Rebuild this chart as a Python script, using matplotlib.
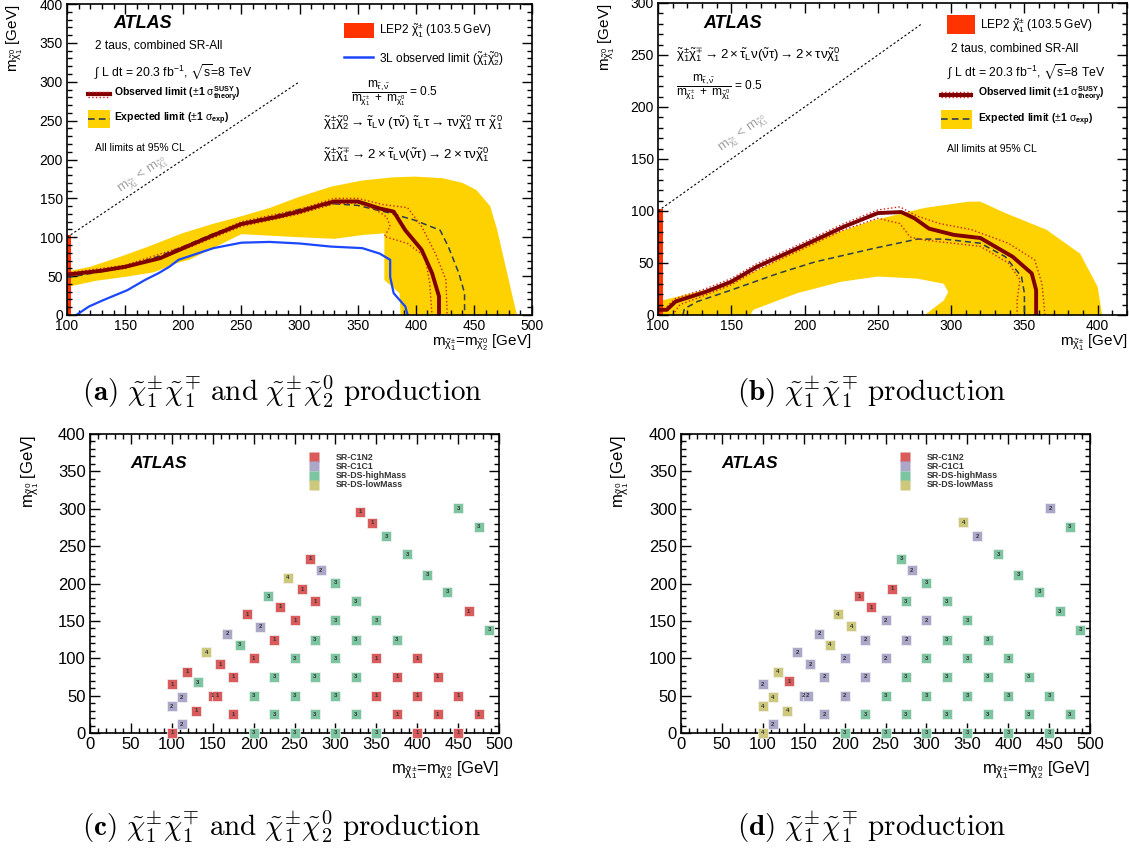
import numpy as np
import matplotlib.pyplot as plt
from matplotlib.patches import Rectangle, Polygon
from matplotlib.ticker import MultipleLocator

plt.rcParams['font.family'] = ['Liberation Sans', 'DejaVu Sans']
plt.rcParams['mathtext.fontset'] = 'custom'
plt.rcParams['mathtext.rm'] = 'Liberation Sans'
plt.rcParams['mathtext.it'] = 'Liberation Sans'
plt.rcParams['mathtext.bf'] = 'Liberation Sans:bold'
plt.rcParams['mathtext.fallback'] = 'stixsans'

# ---------------- (a) C1C1 + C1N2 exclusion ----------------
band_a_up_x = [100, 120, 146, 170, 199, 225, 250, 275, 300, 327, 354, 380, 399, 423, 440, 452, 464, 470, 476, 482, 487]
band_a_up_y = [56, 62, 75, 88, 105, 117, 127, 138, 152, 165, 173, 177, 178, 176, 170, 161, 140, 110, 71, 32, 0]
band_a_lo_x = [387, 386, 373, 373, 355, 330, 300, 250, 223, 205, 195, 175, 150, 125, 100]
band_a_lo_y = [0, 28, 45, 105, 103, 98, 100, 104, 84, 71, 67, 55, 49, 44, 36]

exp_a_x = [100, 130, 150, 180, 200, 225, 250, 280, 300, 330, 350, 378, 399, 421, 428, 437, 442, 442]
exp_a_y = [48, 56, 62, 76, 88, 104, 118, 128, 136, 143, 141, 131, 122, 109, 88, 54, 28, 0]

obs_a_x = [100, 130, 150, 180, 200, 225, 250, 280, 300, 320, 330, 350, 369, 381, 391, 405, 414, 420, 420]
obs_a_y = [52, 57, 62, 73, 86, 102, 117, 126, 133, 142, 146, 146, 137, 133, 109, 84, 54, 24, 0]
obs_a_up_x = [100, 150, 200, 250, 300, 330, 350, 372, 393, 405, 417, 426, 427]
obs_a_up_y = [54, 64, 88, 120, 136, 150, 150, 142, 138, 114, 79, 45, 0]
obs_a_dn_x = [100, 150, 200, 250, 300, 330, 350, 365, 375, 378, 373, 393, 408, 412, 414]
obs_a_dn_y = [50, 60, 84, 114, 130, 143, 144, 136, 126, 114, 101, 92, 75, 41, 0]

blue_a_x = [108, 119, 131, 152, 167, 179, 188, 196, 208, 226, 250, 274, 300, 327, 354, 369, 378, 378, 381, 391, 393]
blue_a_y = [0, 11, 19, 32, 45, 54, 62, 71, 77, 86, 93, 94, 92, 88, 86, 79, 71, 49, 28, 11, 0]

# ---------------- (b) C1C1 exclusion ----------------
band_b_up_x = [100, 132, 150, 172, 207, 247, 282, 312, 320, 337, 365, 388, 400, 403]
band_b_up_y = [13, 24, 32, 46, 72, 91, 103, 109, 109, 98, 82, 59, 27, 0]
hole_b_x = [282, 295, 298, 295, 277, 250, 225, 195, 165, 163]
hole_b_y = [0, 14, 22, 30, 35, 37, 32, 21, 5, 0]

exp_b_x = [117, 118, 127, 150, 182, 207, 247, 277, 295, 320, 337, 348, 350, 350]
exp_b_y = [0, 6, 13, 24, 40, 51, 64, 73, 73, 69, 56, 37, 21, 0]

obs_b_x = [100, 106, 112, 132, 150, 167, 195, 227, 250, 266, 275, 285, 302, 320, 342, 355, 358, 358]
obs_b_y = [5, 5, 13, 22, 32, 46, 64, 85, 98, 99, 93, 83, 77, 74, 56, 40, 24, 0]
obs_b_up_x = [106, 112, 132, 150, 167, 195, 227, 250, 265, 277, 292, 314, 339, 357, 362, 364]
obs_b_up_y = [8, 16, 25, 35, 49, 67, 88, 101, 104, 95, 88, 82, 69, 53, 30, 0]
obs_b_dn_x = [110, 115, 132, 150, 167, 195, 227, 250, 265, 272, 282, 320, 339, 347, 345, 345]
obs_b_dn_y = [0, 10, 19, 29, 43, 61, 82, 93, 88, 75, 72, 66, 50, 34, 14, 0]

lep2_mass = 103.5

# ---------------- (c) best signal region, C1C1 + C1N2 grid ----------------
c_c1n2 = [(100, 0), (100, 65), (119, 82), (130, 30), (150, 50), (155, 50), (159, 92), (175, 75),
          (175, 25), (192, 159), (200, 100), (225, 125), (232, 169), (251, 151), (259, 192),
          (269, 233), (275, 176), (330, 296), (345, 281), (350, 100), (350, 50), (375, 75),
          (375, 25), (400, 100), (400, 50), (400, 0), (425, 75), (425, 25), (450, 0), (450, 50),
          (463, 163), (475, 25)]
c_c1c1 = [(100, 36), (112, 48), (112, 12), (168, 133), (208, 142), (282, 218)]
c_dshigh = [(132, 68), (183, 118), (218, 183), (200, 50), (200, 0), (225, 75), (225, 25),
            (250, 100), (250, 50), (250, 0), (275, 125), (275, 75), (275, 25), (300, 201),
            (300, 151), (300, 100), (300, 50), (300, 0), (325, 176), (325, 125), (325, 75),
            (325, 25), (350, 151), (350, 0), (362, 263), (375, 125), (388, 239), (412, 212),
            (437, 189), (450, 301), (475, 276), (488, 138)]
c_dslow = [(142, 108), (242, 208)]

# ---------------- (d) best signal region, C1C1 grid ----------------
d_c1n2 = [(132, 69), (218, 183), (232, 168), (258, 193)]
d_c1c1 = [(100, 65), (112, 12), (142, 108), (158, 92), (169, 133), (150, 50), (155, 50),
          (175, 75), (175, 25), (200, 100), (200, 50), (225, 125), (225, 75), (250, 151),
          (250, 100), (275, 125), (282, 218), (300, 151), (362, 263), (451, 301)]
d_dshigh = [(200, 0), (225, 25), (250, 50), (250, 0), (269, 233), (275, 176), (275, 75),
            (275, 25), (300, 201), (300, 100), (300, 50), (300, 0), (325, 176), (325, 125),
            (325, 75), (325, 25), (350, 151), (350, 100), (350, 50), (350, 0), (375, 125),
            (375, 75), (375, 25), (388, 239), (400, 100), (400, 50), (400, 0), (412, 212),
            (425, 75), (425, 25), (438, 189), (450, 50), (450, 0), (463, 163), (475, 276),
            (475, 25), (488, 138)]
d_dslow = [(100, 0), (100, 36), (112, 48), (118, 82), (130, 30), (182, 118), (192, 159),
           (208, 143), (345, 282)]

sr_names = ['SR-C1N2', 'SR-C1C1', 'SR-DS-highMass', 'SR-DS-lowMass']
sr_colors = ['#d95b5c', '#aba7c9', '#7dc5a0', '#cdc87c']
sr_codes = ['1', '2', '3', '4']

YELLOW = '#fdd200'
DARKRED = '#800000'
DOTRED = '#d02020'
EXPCOL = '#2b3d4f'
BLUE = '#1a47ff'
LEPRED = '#ff3300'

W, H = 1129, 850
fig = plt.figure(figsize=(W / 100, H / 100), dpi=100)


def px_rect(x0, x1, ytop, ybot):
    return [x0 / W, 1 - ybot / H, (x1 - x0) / W, (ybot - ytop) / H]


def root_axes(rect, xlim, ylim, tick_size):
    ax = fig.add_axes(rect)
    ax.set_xlim(*xlim)
    ax.set_ylim(*ylim)
    ax.xaxis.set_major_locator(MultipleLocator(50))
    ax.xaxis.set_minor_locator(MultipleLocator(10))
    ax.yaxis.set_major_locator(MultipleLocator(50))
    ax.yaxis.set_minor_locator(MultipleLocator(10))
    ax.tick_params(which='both', direction='in', top=True, right=True, width=1.0,
                   labelsize=tick_size, pad=3)
    ax.tick_params(which='major', length=7)
    ax.tick_params(which='minor', length=3.5)
    for s in ax.spines.values():
        s.set_linewidth(1.2)
    return ax


def obs_legend(ax, x0, x1, y, dy, tx, size):
    ax.plot([x0, x1], [y, y], color=DARKRED, lw=3)
    ax.plot([x0, x1], [y + dy, y + dy], color=DOTRED, lw=1, ls=':')
    ax.plot([x0, x1], [y - dy, y - dy], color=DOTRED, lw=1, ls=':')
    ax.text(tx, y, r'Observed limit ($\pm$1 $\sigma^{\mathbf{SUSY}}_{\mathbf{theory}}$)',
            fontsize=size, fontweight='bold', va='center')


def exp_legend(ax, x0, x1, y0, y1, tx, size):
    ax.add_patch(Rectangle((x0, y0), x1 - x0, y1 - y0, color=YELLOW, lw=0))
    ym = 0.5 * (y0 + y1)
    ax.plot([x0, x1], [ym, ym], color=EXPCOL, lw=1.2, ls=(0, (4, 2.5)))
    ax.text(tx, ym, r'Expected limit ($\pm$1 $\sigma_{\mathbf{exp}}$)',
            fontsize=size, fontweight='bold', va='center')


chi1pm = r'\tilde{\chi}_1^{\pm}'
chi1mp = r'\tilde{\chi}_1^{\mp}'
chi10 = r'\tilde{\chi}_1^0'
chi20 = r'\tilde{\chi}_2^0'
frac_txt = (r'$\dfrac{m_{\tilde{\tau},\tilde{\nu}}}{m_{' + chi1pm + r'}\ +\ m_{' + chi10 + r'}}$ = 0.5')
decay_c1n2 = (r'$' + chi1pm + chi20 + r' \rightarrow \tilde{\tau}_L\nu\ (\tau\tilde{\nu})\ \tilde{\tau}_L\tau'
              r' \rightarrow \tau\nu' + chi10 + r'\ \tau\tau\ ' + chi10 + r'$')
decay_c1c1 = (r'$' + chi1pm + chi1mp + r' \rightarrow 2\times\tilde{\tau}_L\nu(\tilde{\nu}\tau)'
              r' \rightarrow 2\times\tau\nu' + chi10 + r'$')
lumi_txt = r'$\int$ L dt = 20.3 fb$^{-1}$, $\sqrt{\rm s}$=8 TeV'
diag_txt = r'$m_{\tilde{\chi}_1^{\pm}}$ < $m_{\tilde{\chi}_1^0}$'

# ---------- panel (a) ----------
ax = root_axes(px_rect(67, 532, 4, 315), (100, 500), (0, 400), 10)
ax.add_patch(Polygon(list(zip(band_a_up_x + band_a_lo_x, band_a_up_y + band_a_lo_y)),
                     closed=True, color=YELLOW, lw=0))
ax.plot(blue_a_x, blue_a_y, color=BLUE, lw=1.6)
ax.plot(exp_a_x, exp_a_y, color=EXPCOL, lw=1.1, ls=(0, (4, 2.5)))
ax.plot(obs_a_up_x, obs_a_up_y, color=DOTRED, lw=1, ls=':')
ax.plot(obs_a_dn_x, obs_a_dn_y, color=DOTRED, lw=1, ls=':')
ax.plot(obs_a_x, obs_a_y, color=DARKRED, lw=2.8)
ax.add_patch(Rectangle((100, 0), lep2_mass - 100, lep2_mass, color=LEPRED, lw=0))
ax.plot([100, 300], [100, 300], color='black', lw=0.8, ls=(0, (2, 2)))
ax.text(165, 180, diag_txt, color='#a0a0a0', fontsize=9.5, rotation=45,
        transform_rotates_text=True, ha='center', va='center')
ax.text(140, 375, 'ATLAS', fontsize=13, fontweight='bold', fontstyle='italic', va='center')
ax.text(124, 347, '2 taus, combined SR-All', fontsize=8.6, va='center')
ax.text(123, 313, lumi_txt, fontsize=8.8, va='center')
obs_legend(ax, 118, 137, 284, 3, 140, 7.5)
exp_legend(ax, 118, 137, 240, 264, 140, 7.5)
ax.text(124, 215, 'All limits at 95% CL', fontsize=7.5, va='center')
ax.add_patch(Rectangle((338, 356), 26, 20, color=LEPRED, lw=0))
ax.text(368, 366, r'LEP2 $' + chi1pm + r'$ (103.5 GeV)', fontsize=8.6, va='center')
ax.plot([338, 363], [332, 332], color=BLUE, lw=1.8)
ax.text(368, 330, r'3L observed limit ($' + chi1pm + chi20 + r'$)', fontsize=8.6, va='center')
ax.text(344, 285, frac_txt, fontsize=8.6, va='center')
ax.text(320, 247, decay_c1n2, fontsize=9.6, va='center')
ax.text(320, 206, decay_c1c1, fontsize=9.6, va='center')
fig.text(15 / W, 1 - 5 / H, r'$m_{' + chi10 + r'}$ [GeV]', rotation=90, ha='center', va='top',
         fontsize=11)
fig.text(532 / W, 1 - 343 / H, r'$m_{' + chi1pm + r'}$=$m_{' + chi20 + r'}$ [GeV]',
         ha='right', va='center', fontsize=11)

# ---------- panel (b) ----------
ax = root_axes(px_rect(658, 1127, 3, 315), (100, 420), (0, 300), 10)
poly_b = list(zip(band_b_up_x, band_b_up_y)) + list(zip(hole_b_x, hole_b_y)) + [(100, 0)]
ax.add_patch(Polygon(poly_b, closed=True, color=YELLOW, lw=0))
ax.plot(exp_b_x, exp_b_y, color=EXPCOL, lw=1.1, ls=(0, (4, 2.5)))
ax.plot(obs_b_up_x, obs_b_up_y, color=DOTRED, lw=1, ls=':')
ax.plot(obs_b_dn_x, obs_b_dn_y, color=DOTRED, lw=1, ls=':')
ax.plot(obs_b_x, obs_b_y, color=DARKRED, lw=2.8)
ax.add_patch(Rectangle((100, 0), lep2_mass - 100, lep2_mass - 2, color=LEPRED, lw=0))
ax.plot([100, 280], [100, 280], color='black', lw=0.8, ls=(0, (2, 2)))
ax.text(158, 174, diag_txt, color='#a0a0a0', fontsize=9.5, rotation=45,
        transform_rotates_text=True, ha='center', va='center')
ax.text(131, 280, 'ATLAS', fontsize=13, fontweight='bold', fontstyle='italic', va='center')
ax.text(112, 250, decay_c1c1, fontsize=9.5, va='center')
ax.text(112, 219, frac_txt, fontsize=8.6, va='center')
ax.add_patch(Rectangle((297, 270), 19.5, 18, color=LEPRED, lw=0))
ax.text(320, 279, r'LEP2 $' + chi1pm + r'$ (103.5 GeV)', fontsize=8.6, va='center')
ax.text(300, 256, '2 taus, combined SR-All', fontsize=8.6, va='center')
ax.text(297, 234, lumi_txt, fontsize=8.8, va='center')
obs_legend(ax, 293, 313.5, 212, 2.2, 318, 7.5)
exp_legend(ax, 293, 314, 179, 197, 318, 7.5)
ax.text(297, 160, 'All limits at 95% CL', fontsize=7.5, va='center')
fig.text(607 / W, 1 - 4 / H, r'$m_{' + chi10 + r'}$ [GeV]', rotation=90, ha='center', va='top',
         fontsize=11)
fig.text(1127 / W, 1 - 343 / H, r'$m_{' + chi1pm + r'}$ [GeV]', ha='right', va='center',
         fontsize=11)


# ---------- panels (c), (d) ----------
def sr_panel(x0, x1, groups, ylab_x):
    ax = root_axes(px_rect(x0, x1, 434, 733), (0, 500), (0, 400), 12)
    for pts, col, code in zip(groups, sr_colors, sr_codes):
        xs = [p[0] for p in pts]
        ys = [p[1] for p in pts]
        ax.plot(xs, ys, 's', color=col, ms=7, mec='#f4f4f4', mew=0.5, clip_on=False, zorder=3)
        for xv, yv in zip(xs, ys):
            ax.text(xv, yv, code, fontsize=4.2, fontweight='bold', color='#333333',
                    ha='center', va='center', zorder=4, clip_on=False)
    for i, (name, col) in enumerate(zip(sr_names, sr_colors)):
        yl = 369 - 12.3 * i
        ax.plot([274], [yl], 's', color=col, ms=6.8, mec='none')
        ax.text(301, yl, name, fontsize=6.3, fontweight='bold', color='#333333', va='center')
    ax.text(49, 360, 'ATLAS', fontsize=12.5, fontweight='bold', fontstyle='italic', va='center')
    fig.text(ylab_x / W, 1 - 435 / H, r'$m_{' + chi10 + r'}$ [GeV]', rotation=90,
             ha='center', va='top', fontsize=12)
    fig.text(x1 / W, 1 - 770 / H, r'$m_{' + chi1pm + r'}$=$m_{' + chi20 + r'}$ [GeV]',
             ha='right', va='center', fontsize=12)
    return ax


sr_panel(90, 499, [c_c1n2, c_c1c1, c_dshigh, c_dslow], 30)
sr_panel(681, 1090, [d_c1n2, d_c1c1, d_dshigh, d_dslow], 620)

# ---------- sub-captions ----------
cap_a = (r'$\mathbf{(a)}\ ' + chi1pm + chi1mp + r'\ \mathrm{and}\ ' + chi1pm + chi20
         + r'\ \mathrm{production}$')
cap_b = r'$\mathbf{(b)}\ ' + chi1pm + chi1mp + r'\ \mathrm{production}$'
cap_kw = dict(ha='center', va='center', fontsize=21, math_fontfamily='cm')
fig.text(282 / W, 1 - 392 / H, cap_a, **cap_kw)
fig.text(872 / W, 1 - 392 / H, cap_b, **cap_kw)
fig.text(282 / W, 1 - 827 / H, cap_a.replace('(a)', '(c)'), **cap_kw)
fig.text(872 / W, 1 - 827 / H, cap_b.replace('(b)', '(d)'), **cap_kw)

fig.savefig('out.png', dpi=100)
